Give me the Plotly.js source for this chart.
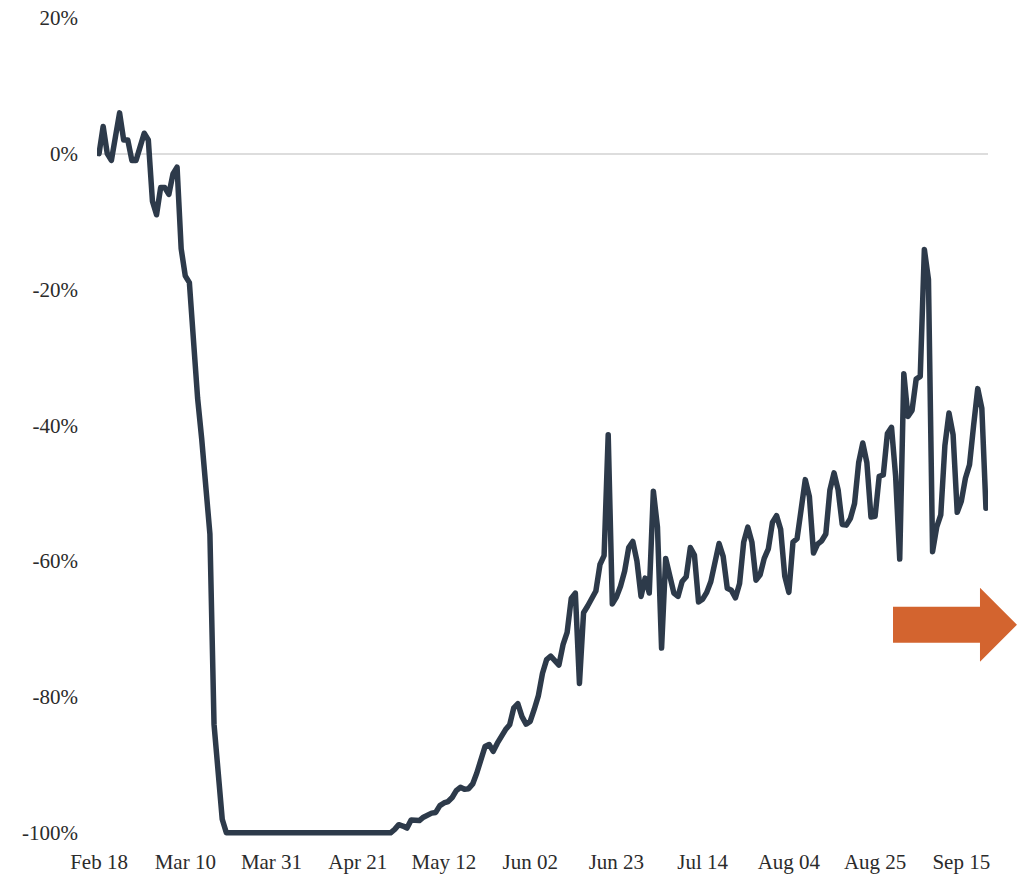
<!DOCTYPE html>
<html>
<head>
<meta charset="utf-8">
<script src="https://cdn.plot.ly/plotly-3.0.1.min.js"></script>
<style>
  html, body { margin: 0; padding: 0; background: #ffffff; }
  #chart { width: 1024px; height: 875px; }
  /* rounded corners on the series line */
  #chart .scatterlayer path.js-line { stroke-linejoin: round; stroke-linecap: round; }
</style>
</head>
<body>
<div id="chart"></div>
<script>
// Daily change vs. baseline (%), one value per day starting on the first date
const startDate = '2020-02-18';
const changePct = [
  0, 4, 0, -1, 2.5, 6, 2, 2, -1, -1,
  1, 3, 2, -7, -9, -5, -5, -6, -3, -2,
  -14, -18, -19, -28, -36, -42, -48, -56, -84, -92,
  -98, -100, -100, -100, -100, -100, -100, -100, -100, -100,
  -100, -100, -100, -100, -100, -100, -100, -100, -100, -100,
  -100, -100, -100, -100, -100, -100, -100, -100, -100, -100,
  -100, -100, -100, -100, -100, -100, -100, -100, -100, -100,
  -100, -100, -99.5, -98.8, -99, -99.3, -98.1, -98.1, -98.2, -97.7,
  -97.3, -97.1, -97, -96, -95.6, -95.4, -94.8, -93.8, -93.3, -93.6,
  -93.5, -92.8, -91.2, -89.4, -87.3, -87, -88, -86.8, -85.6, -84.8,
  -84.1, -81.6, -81, -82.9, -84, -83.6, -81.8, -79.8, -76.5, -74.5,
  -74, -74.7, -75.3, -72.3, -70.5, -65.5, -64.7, -78, -67.6, -66.6,
  -65.5, -64.4, -60.5, -59.2, -41.4, -66.3, -65.3, -63.7, -61.5, -58,
  -57.1, -60, -65.2, -62.5, -64.7, -49.7, -55, -72.8, -59.6, -62.5,
  -64.7, -65.2, -63, -62.3, -58, -59.1, -66, -65.6, -64.6, -63,
  -60, -57.4, -59.3, -64, -64.3, -65.4, -63.3, -57.2, -55, -57.2,
  -62.8, -62, -59.6, -58.2, -54.3, -53.3, -55.3, -62.2, -64.6, -57.2,
  -56.7, -51.6, -48, -50.5, -58.8, -57.5, -57, -56, -49.5, -47,
  -49.5, -54.6, -54.7, -53.7, -51.5, -45.5, -42.6, -45.5, -53.5, -53.4,
  -47.5, -47.3, -41.2, -40.3, -47.5, -59.7, -32.4, -38.7, -37.8, -33.2,
  -32.8, -14.1, -18.5, -58.6, -55, -53.2, -43, -38.2, -41.4, -52.8,
  -51.2, -47.8, -45.8, -40, -34.6, -37.5, -52.2
];

// Axis ticks
const xTickDates = ['2020-02-18', '2020-03-10', '2020-03-31', '2020-04-21', '2020-05-12',
                    '2020-06-02', '2020-06-23', '2020-07-14', '2020-08-04', '2020-08-25', '2020-09-15'];
const xTickLabels = ['Feb 18', 'Mar 10', 'Mar 31', 'Apr 21', 'May 12',
                     'Jun 02', 'Jun 23', 'Jul 14', 'Aug 04', 'Aug 25', 'Sep 15'];
const yTickVals = [20, 0, -20, -40, -60, -80, -100];
const yTickLabels = ['20%', '0%', '-20%', '-40%', '-60%', '-80%', '-100%'];

// One calendar day per value
const dates = changePct.map((_, i) => {
  const d = new Date(startDate + 'T00:00:00Z');
  d.setUTCDate(d.getUTCDate() + i);
  return d.toISOString().slice(0, 10);
});

const lineColor = '#2d3a4a';
const arrowColor = '#d3642f';
const textFont = { family: '"Liberation Serif", "DejaVu Serif", serif', size: 21, color: '#2b2b2b' };

const trace = {
  type: 'scatter',
  mode: 'lines',
  x: dates,
  y: changePct,
  line: { color: lineColor, width: 5.5, shape: 'linear' },
  hoverinfo: 'skip'
};

const layout = {
  width: 1024,
  height: 875,
  margin: { l: 97, r: 36, t: 11, b: 32 },
  paper_bgcolor: '#ffffff',
  plot_bgcolor: '#ffffff',
  showlegend: false,
  font: textFont,
  xaxis: {
    type: 'date',
    range: ['2020-02-17 12:00', '2020-09-21 12:00'],
    tickmode: 'array',
    tickvals: xTickDates,
    ticktext: xTickLabels,
    showgrid: false,
    zeroline: false,
    showline: false,
    ticks: '',
    ticklabelstandoff: 4,
    tickfont: textFont
  },
  yaxis: {
    range: [-101.5, 21],
    tickmode: 'array',
    tickvals: yTickVals,
    ticktext: yTickLabels,
    showgrid: false,
    zeroline: true,
    zerolinecolor: '#dddddd',
    zerolinewidth: 2,
    showline: false,
    ticks: '',
    ticklabelstandoff: 18,
    tickfont: textFont
  },
  shapes: [{
    // orange arrow pointing right, below the end of the line
    type: 'path',
    xref: 'paper',
    yref: 'paper',
    path: 'M 0.8934 0.2839 L 0.9910 0.2839 L 0.9910 0.3067 L 1.0325 0.2623 L 0.9910 0.2178 L 0.9910 0.2406 L 0.8934 0.2406 Z',
    fillcolor: arrowColor,
    line: { width: 0 },
    layer: 'above'
  }]
};

Plotly.newPlot('chart', [trace], layout, { staticPlot: true, displayModeBar: false });
</script>
</body>
</html>
